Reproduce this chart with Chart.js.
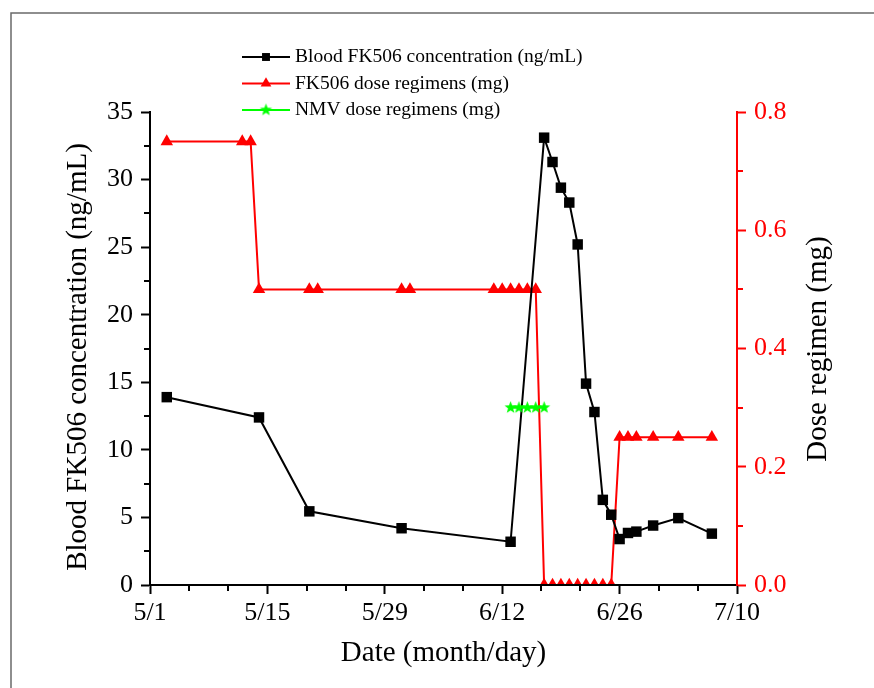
<!DOCTYPE html>
<html>
<head>
<meta charset="utf-8">
<script src="https://cdn.jsdelivr.net/npm/chart.js@4.4.1/dist/chart.umd.min.js"></script>
<style>
  html, body { margin: 0; padding: 0; background: #fff; }
  #wrap { width: 874px; height: 688px; }
</style>
</head>
<body>
<div id="wrap"><canvas id="chart" width="874" height="688"></canvas></div>
<script>
// blood FK506 concentration (ng/mL)
const concDates = ["5/3", "5/14", "5/20", "5/31", "6/13", "6/17", "6/18", "6/19", "6/20", "6/21",
  "6/22", "6/23", "6/24", "6/25", "6/26", "6/27", "6/28", "6/30", "7/3", "7/7"];
const concValues = [13.9, 12.4, 5.45, 4.2, 3.2, 33.1, 31.3, 29.4, 28.3, 25.2,
  14.9, 12.8, 6.3, 5.2, 3.4, 3.85, 3.95, 4.4, 4.95, 3.8];

// FK506 dose regimens (mg)
const doseDates = ["5/3", "5/12", "5/13", "5/14", "5/20", "5/21", "5/31", "6/1", "6/11", "6/12",
  "6/13", "6/14", "6/15", "6/16", "6/17", "6/18", "6/19", "6/20", "6/21", "6/22",
  "6/23", "6/24", "6/25", "6/26", "6/27", "6/28", "6/30", "7/3", "7/7"];
const doseValues = [0.75, 0.75, 0.75, 0.5, 0.5, 0.5, 0.5, 0.5, 0.5, 0.5,
  0.5, 0.5, 0.5, 0.5, 0, 0, 0, 0, 0, 0,
  0, 0, 0, 0.25, 0.25, 0.25, 0.25, 0.25, 0.25];

// NMV dose regimens (mg)
const nmvDates = ["6/13", "6/14", "6/15", "6/16", "6/17"];
const nmvValues = [0.3, 0.3, 0.3, 0.3, 0.3];

const xTickStep = 14;   // days between date labels
const xMax = 70;        // 5/1 .. 7/10

const FONT = "'Liberation Serif', 'Times New Roman', serif";
const DAY = 86400000;
const ORIGIN = Date.UTC(2023, 4, 1);

const dayOf = (s) => {
  const [m, d] = s.split("/").map(Number);
  return Math.round((Date.UTC(2023, m - 1, d) - ORIGIN) / DAY);
};
const dayLabel = (v) => {
  const dt = new Date(ORIGIN + v * DAY);
  return (dt.getUTCMonth() + 1) + "/" + dt.getUTCDate();
};
const toPoints = (dates, values) => dates.map((d, i) => ({ x: dayOf(d), y: values[i] }));

// filled five point star for the NMV marker
const makeStar = (color, r) => {
  const c = document.createElement("canvas");
  const s = Math.ceil(r * 2) + 2;
  c.width = s;
  c.height = s;
  const g = c.getContext("2d");
  g.fillStyle = color;
  g.beginPath();
  for (let i = 0; i < 10; i++) {
    const rr = i % 2 === 0 ? r : r * 0.42;
    const a = -Math.PI / 2 + i * Math.PI / 5;
    g.lineTo(s / 2 + rr * Math.cos(a), s / 2 + rr * Math.sin(a));
  }
  g.closePath();
  g.fill();
  return c;
};
const starImg = makeStar("#00ff00", 6.4);

const frame = {
  id: "frame",
  beforeDraw(chart) {
    const { ctx } = chart;
    ctx.save();
    ctx.fillStyle = "#fff";
    ctx.fillRect(0, 0, chart.width, chart.height);
    ctx.strokeStyle = "#6a6a6a";
    ctx.lineWidth = 1.5;
    ctx.beginPath();
    ctx.moveTo(11, chart.height);
    ctx.lineTo(11, 13);
    ctx.lineTo(chart.width, 13);
    ctx.stroke();
    ctx.restore();
  },
};

const minorTicks = {
  id: "minorTicks",
  afterDraw(chart) {
    const { ctx, chartArea: a, scales } = chart;
    ctx.save();
    ctx.lineWidth = 2;
    const seg = (x1, y1, x2, y2) => {
      ctx.beginPath();
      ctx.moveTo(x1, y1);
      ctx.lineTo(x2, y2);
      ctx.stroke();
    };
    ctx.strokeStyle = "#000";
    for (let i = 0; i <= 15; i++) {
      if (i % 3 === 0) continue;
      const px = Math.round(scales.x.getPixelForValue(i * xTickStep / 3));
      seg(px, a.bottom, px, a.bottom + 6);
    }
    for (let i = 0; i <= 14; i++) {
      if (i % 2 === 0) continue;
      const py = Math.round(scales.y.getPixelForValue(i * 2.5));
      seg(a.left, py, a.left - 6, py);
    }
    ctx.strokeStyle = "#ff0000";
    for (let i = 0; i <= 8; i++) {
      if (i % 2 === 0) continue;
      const py = Math.round(scales.y1.getPixelForValue(i * 0.1));
      seg(a.right, py, a.right + 6, py);
    }
    ctx.restore();
  },
};

const axisTitles = {
  id: "axisTitles",
  afterDraw(chart) {
    const { ctx } = chart;
    ctx.save();
    ctx.fillStyle = "#000";
    ctx.font = "29px " + FONT;
    ctx.textAlign = "center";
    ctx.textBaseline = "middle";
    ctx.translate(78, 357);
    ctx.rotate(-Math.PI / 2);
    ctx.fillText("Blood FK506 concentration (ng/mL)", 0, 0);
    ctx.restore();

    ctx.save();
    ctx.fillStyle = "#000";
    ctx.font = "29px " + FONT;
    ctx.textAlign = "center";
    ctx.textBaseline = "middle";
    ctx.translate(818, 349);
    ctx.rotate(-Math.PI / 2);
    ctx.fillText("Dose regimen (mg)", 0, 0);
    ctx.restore();
  },
};

// legend with line-marker-line samples, stacked and left aligned
const legendBox = {
  id: "legendBox",
  afterDraw(chart) {
    const { ctx } = chart;
    const rows = [57, 83.5, 110];
    const sizes = [5.6, 6.2, 5.6];
    ctx.save();
    chart.data.datasets.forEach((ds, i) => {
      const y = rows[i];
      ctx.strokeStyle = ds.borderColor;
      ctx.fillStyle = ds.pointBackgroundColor;
      ctx.lineWidth = 2;
      ctx.beginPath();
      ctx.moveTo(242, y);
      ctx.lineTo(290, y);
      ctx.stroke();
      Chart.helpers.drawPoint(ctx, {
        pointStyle: ds.pointStyle,
        radius: sizes[i],
        borderWidth: ds.pointBorderWidth,
        rotation: 0,
      }, 266, y);
      ctx.fillStyle = "#000";
      ctx.font = "19.5px " + FONT;
      ctx.textAlign = "left";
      ctx.textBaseline = "middle";
      ctx.fillText(ds.label, 295, y);
    });
    ctx.restore();
  },
};

new Chart(document.getElementById("chart"), {
  type: "line",
  data: {
    datasets: [
      {
        label: "Blood FK506 concentration (ng/mL)",
        data: toPoints(concDates, concValues),
        yAxisID: "y",
        borderColor: "#000",
        backgroundColor: "#000",
        borderWidth: 2,
        pointStyle: "rect",
        pointRadius: 7.4,
        pointBackgroundColor: "#000",
        pointBorderColor: "#000",
        pointBorderWidth: 0,
        order: 1,
      },
      {
        label: "FK506 dose regimens (mg)",
        data: toPoints(doseDates, doseValues),
        yAxisID: "y1",
        borderColor: "#ff0000",
        backgroundColor: "#ff0000",
        borderWidth: 2,
        pointStyle: "triangle",
        pointRadius: 7.2,
        pointBackgroundColor: "#ff0000",
        pointBorderColor: "#ff0000",
        pointBorderWidth: 0,
        order: 2,
      },
      {
        label: "NMV dose regimens (mg)",
        data: toPoints(nmvDates, nmvValues),
        yAxisID: "y1",
        borderColor: "#00ff00",
        backgroundColor: "#00ff00",
        borderWidth: 2,
        pointStyle: starImg,
        pointRadius: 6.4,
        pointBackgroundColor: "#00ff00",
        pointBorderColor: "#00ff00",
        pointBorderWidth: 0,
        order: 0,
      },
    ],
  },
  options: {
    responsive: false,
    animation: false,
    devicePixelRatio: 1,
    layout: { padding: { top: 112, left: 0, right: 0, bottom: 0 } },
    plugins: {
      legend: { display: false },
      tooltip: { enabled: false },
    },
    scales: {
      x: {
        type: "linear",
        position: "bottom",
        min: 0,
        max: xMax,
        afterFit: (s) => { s.height = 103; },
        ticks: {
          stepSize: xTickStep,
          autoSkip: false,
          maxRotation: 0,
          padding: 4,
          color: "#000",
          font: { family: FONT, size: 26 },
          callback: (v) => dayLabel(v),
        },
        grid: { drawOnChartArea: false, drawTicks: true, tickLength: 9, tickWidth: 2, tickColor: "#000" },
        border: { display: true, color: "#000", width: 2, z: 1 },
        title: {
          display: true,
          text: "Date (month/day)",
          color: "#000",
          font: { family: FONT, size: 29 },
          padding: { top: 0, bottom: 17 },
        },
      },
      y: {
        position: "left",
        min: 0,
        max: 35,
        afterFit: (s) => { s.width = 150; },
        ticks: {
          stepSize: 5,
          padding: 8,
          color: "#000",
          font: { family: FONT, size: 26 },
        },
        grid: { drawOnChartArea: false, drawTicks: true, tickLength: 9, tickWidth: 2, tickColor: "#000" },
        border: { display: true, color: "#000", width: 2, z: 1 },
      },
      y1: {
        position: "right",
        min: 0,
        max: 0.8,
        afterFit: (s) => { s.width = 137; },
        ticks: {
          stepSize: 0.2,
          padding: 8,
          color: "#ff0000",
          font: { family: FONT, size: 26 },
          callback: (v) => Number(v).toFixed(1),
        },
        grid: { drawOnChartArea: false, drawTicks: true, tickLength: 9, tickWidth: 2, tickColor: "#ff0000" },
        border: { display: true, color: "#ff0000", width: 2, z: 1 },
      },
    },
  },
  plugins: [frame, minorTicks, axisTitles, legendBox],
});
</script>
</body>
</html>
